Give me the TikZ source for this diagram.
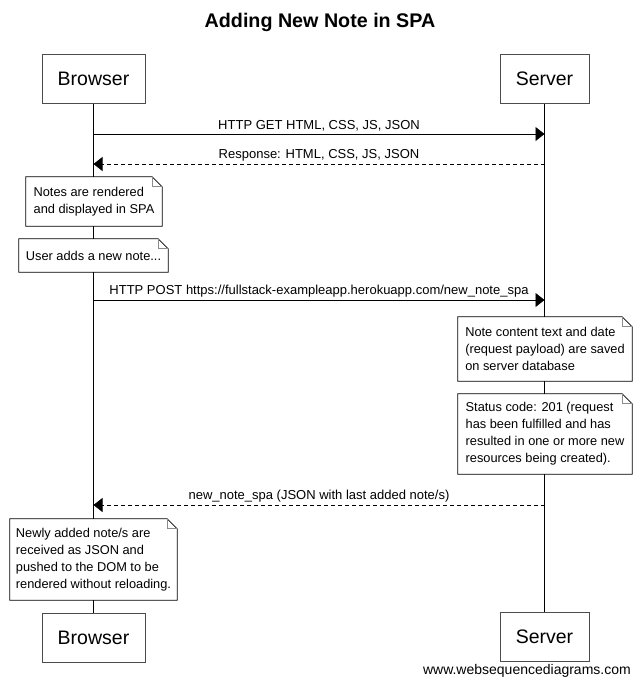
\documentclass[tikz,border=0pt]{standalone}
\usepackage{fontspec}
\setmainfont{Liberation Sans}
\usetikzlibrary{arrows.meta}
\begin{document}
\begin{tikzpicture}[x=1pt,y=-1pt,
  actor/.style={draw=black!70, line width=1pt, fill=white, minimum height=49pt, inner sep=0pt, font=\fontsize{19.5}{22}\selectfont},
  lifeline/.style={line width=0.8pt, black},
  msg/.style={line width=0.8pt, -{Triangle[length=9pt,width=14pt]}},
  reply/.style={msg, dash pattern=on 4pt off 3pt},
  lbl/.style={font=\fontsize{13}{15}\selectfont, inner sep=0pt, above=2.5pt},
  notebox/.style={fill=white, draw=none, inner sep=0pt, align=left, font=\fontsize{12.8}{17}\selectfont},
  noteedge/.style={line width=0.8pt, black},
  fold/.style={line width=0.8pt, black!45}
]
\newcommand\drawnote[1]{%
  \draw[noteedge] (#1.south west) -- (#1.north west) -- ([xshift=-10pt]#1.north east) -- ([yshift=-10pt]#1.north east) -- (#1.south east) -- cycle;
  \draw[fold] ([xshift=-10pt]#1.north east) -- ([xshift=-10pt,yshift=-10pt]#1.north east) -- ([yshift=-10pt]#1.north east);
}
\useasboundingbox (0,0) rectangle (640,686);
\fill[white] (0,0) rectangle (640,686);

\node[font=\bfseries\fontsize{19.7}{22}\selectfont] (title) at (320,22.5) {Adding New Note in SPA};

\node[actor, minimum width=103pt] (bt) at (93.5,78.5) {Browser};
\node[actor, minimum width=89pt] (st) at (544.5,78.5) {Server};
\node[actor, minimum width=103pt] (bb) at (93.5,637.5) {Browser};
\node[actor, minimum width=89pt] (sb) at (544.5,637) {Server};

\draw[lifeline] (bt.south) -- (bb.north);
\draw[lifeline] (st.south) -- (sb.north);

% message points on lifelines
\coordinate (b1) at (93.5,134);  \coordinate (s1) at (544.5,134);
\coordinate (b2) at (93.5,164);  \coordinate (s2) at (544.5,164);
\coordinate (b3) at (93.5,300);  \coordinate (s3) at (544.5,300);
\coordinate (b4) at (93.5,505);  \coordinate (s4) at (544.5,505);

\draw[msg] (b1) -- node[lbl] {HTTP GET HTML, CSS, JS, JSON} (s1);
\draw[reply] (s2) -- node[lbl] {Response: HTML, CSS, JS, JSON} (b2);
\draw[msg] (b3) -- node[lbl] {HTTP POST https://fullstack-exampleapp.herokuapp.com/new\_note\_spa} (s3);
\draw[reply] (s4) -- node[lbl] {new\_note\_spa (JSON with last added note/s)} (b4);

\node[notebox, minimum width=136pt, minimum height=49pt] (n1) at (94,201.5) {Notes are rendered\\and displayed in SPA};
\drawnote{n1}
\node[notebox, minimum width=149pt, minimum height=33pt] (n2) at (93.5,255.5) {User adds a new note...};
\drawnote{n2}
\node[notebox, minimum width=174pt, minimum height=64pt] (n3) at (545,349) {Note content text and date\\(request payload) are saved\\on server database};
\drawnote{n3}
\node[notebox, minimum width=174pt, minimum height=80pt] (n4) at (545,434) {Status code: 201 (request\\has been fulfilled and has\\resulted in one or more new\\resources being created).};
\drawnote{n4}
\node[notebox, minimum width=167pt, minimum height=81pt] (n5) at (93.5,559.5) {Newly added note/s are\\received as JSON and\\pushed to the DOM to be\\rendered without reloading.};
\drawnote{n5}

\node[anchor=east, inner sep=0pt, font=\fontsize{14}{16}\selectfont] (footer) at (631,671) {www.websequencediagrams.com};
\end{tikzpicture}
\end{document}
